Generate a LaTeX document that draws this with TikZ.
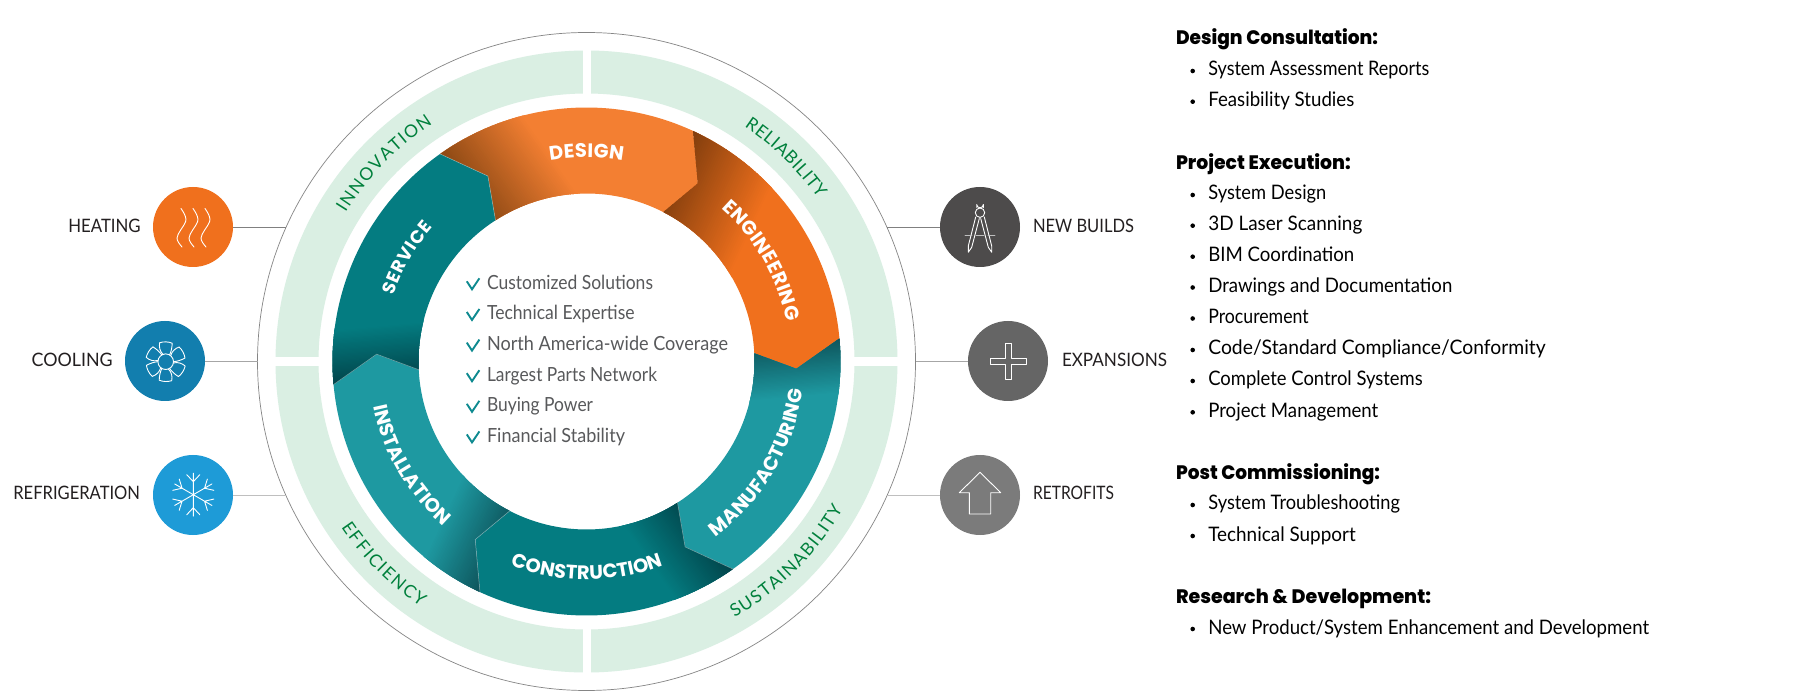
\documentclass[tikz,border=0pt]{standalone}
\usepackage{fontspec}
\usetikzlibrary{decorations.text}
\setmainfont{Lato}
\newfontfamily\lgt{Lato}
\newfontfamily\hvy{Poppins}[UprightFont=* Bold]
\newfontfamily\xhvy{Poppins}[UprightFont=* ExtraBold]
\definecolor{bandg}{HTML}{DAEFE3}
\definecolor{txtg}{HTML}{00803C}
\definecolor{ringg}{HTML}{858585}
\definecolor{orA}{HTML}{F37F32}
\definecolor{orB}{HTML}{F0701D}
\definecolor{orAd}{HTML}{854512}
\definecolor{orBd}{HTML}{7A3A0C}
\definecolor{teA}{HTML}{1E99A1}
\definecolor{teB}{HTML}{047C81}
\definecolor{teAd}{HTML}{0C4E55}
\definecolor{teBd}{HTML}{013F45}
\definecolor{chk}{HTML}{0E8A90}
\definecolor{gtxt}{HTML}{58595B}
\definecolor{ltxt}{HTML}{231F20}
\definecolor{cCool}{HTML}{127EAE}
\definecolor{cRefr}{HTML}{1E9BD7}
\definecolor{cNewb}{HTML}{4D4B4B}
\definecolor{cExpa}{HTML}{656565}
\definecolor{cRetr}{HTML}{7B7B7B}
\newcommand\fitw[2]{\resizebox{#1pt}{\height}{#2}}
\newcommand\segpath[1]{({90-(#1)}:254) arc[start angle={90-(#1)},end angle={90-(#1)-60},radius=254] -- ({90-(#1)-67.2}:210) -- ({90-(#1)-62.4}:168) arc[start angle={90-(#1)-62.4},end angle={90-(#1)-2.4},radius=168] -- ({90-(#1)-7.2}:210) -- cycle}
% #1 start angle, #2 base colour, #3 dark colour, #4 strip width of the shadow
\newcommand\seg[4]{%
\begin{scope}
 \path[clip] \segpath{#1};
 \fill[#2] (-300,-300) rectangle (300,300);
 \begin{scope}[shift={({90-(#1)-1}:205)},rotate={-(#1)}]
  \fill[#3] (-60,-80) rectangle (-10,80);
  \foreach \i in {0,...,50}{
   \pgfmathsetmacro\xa{-10+#4*\i}
   \pgfmathsetmacro\xb{\xa+3}
   \pgfmathsetmacro\pc{2*\i}
   \fill[#2!\pc!#3] (\xa,-80) rectangle (\xb,80);
  }
 \end{scope}
\end{scope}}
\newcommand\edgeln[1]{\draw[white,opacity=.45,line width=.5pt] ({90-(#1)}:254) -- ({90-(#1)-7.2}:210) -- ({90-(#1)-2.4}:168);}
\newcommand\curvecw[6]{\path[decorate,decoration={text along path,text color=#6,text={|#5|#1},text align={fit to path}}] ({90-(#2)+(#3)}:#4) arc[start angle={90-(#2)+(#3)},delta angle={-2*(#3)},radius=#4];}
\newcommand\curveccw[6]{\path[decorate,decoration={text along path,text color=#6,text={|#5|#1},text align={fit to path}}] ({90-(#2)-(#3)}:#4) arc[start angle={90-(#2)-(#3)},delta angle={2*(#3)},radius=#4];}
\newcommand\cbold{\hvy\fontsize{19.5}{24}\selectfont}
\newcommand\cbolds{\hvy\fontsize{18}{24}\selectfont}
\newcommand\cthin{\fontsize{17.5}{23}\selectfont}
\tikzset{
 dot/.style={circle,minimum size=80pt,inner sep=0pt,outer sep=0pt},
 conn/.style={line width=.9pt},
 sidelab/.style={anchor=base west,inner sep=0pt,outer sep=0pt,text=ltxt,font=\lgt\fontsize{18.5}{22}\selectfont},
 inlist/.style={anchor=base west,inner sep=0pt,outer sep=0pt,text=gtxt,font=\lgt\fontsize{19.5}{23}\selectfont},
 head/.style={anchor=base west,inner sep=0pt,outer sep=0pt,text=black,font=\xhvy\fontsize{19.5}{24}\selectfont},
 item/.style={anchor=base west,inner sep=0pt,outer sep=0pt,text=black,font=\lgt\fontsize{20}{24}\selectfont},
 bul/.style={circle,fill=black,minimum size=4.6pt,inner sep=0pt,outer sep=0pt},
 ico/.style={white,line width=.9pt,line join=round,line cap=round},
 chkm/.style={chk,line width=1.9pt},
}
\begin{document}
\begin{tikzpicture}[x=1pt,y=-1pt]
\useasboundingbox (0,0) rectangle (1800,700);
\fill[white] (0,0) rectangle (1800,700);
% outer ring
\node[circle,draw=ringg,line width=.7pt,minimum size=658pt,inner sep=0pt,outer sep=0pt] (ring) at (586.5,361.5) {};
% side circles
\node[dot,fill=orB] (heat) at (193,227) {};
\node[dot,fill=cCool] (cool) at (165,361) {};
\node[dot,fill=cRefr] (refr) at (193,495) {};
\node[dot,fill=cNewb] (newb) at (980,227) {};
\node[dot,fill=cExpa] (expa) at (1008,361) {};
\node[dot,fill=cRetr] (retr) at (980,495) {};
\draw[conn,draw=black!50] (heat.east) -- (heat.east -| ring.156);
\draw[conn,draw=black!35] (cool.east) -- (cool.east -| ring.180);
\draw[conn,draw=black!25] (refr.east) -- (refr.east -| ring.204);
\draw[conn,draw=black!50] (newb.west) -- (newb.west -| ring.24);
\draw[conn,draw=black!35] (expa.west) -- (expa.west -| ring.0);
\draw[conn,draw=black!25] (retr.west) -- (retr.west -| ring.-24);
% rings centred
\begin{scope}[shift={(586.5,361.5)},y=1pt]
 \fill[bandg,even odd rule] (0,0) circle[radius=311] (0,0) circle[radius=268];
 \fill[white] (-4,-320) rectangle (4,320);
 \fill[white] (-320,-4.5) rectangle (320,4.5);
 \seg{-35.2}{orA}{orAd}{1.9}
 \seg{24.8}{orB}{orBd}{2}
 \seg{84.8}{teA}{teAd}{1.2}
 \seg{144.8}{teB}{teBd}{1.4}
 \seg{204.8}{teA}{teAd}{1.4}
 \seg{264.8}{teB}{teBd}{1.2}
 \edgeln{144.8}\edgeln{204.8}\edgeln{264.8}\edgeln{324.8}
 \curvecw{DESIGN}{0}{10.25}{204}{\cbold}{white}
 \curvecw{ENGINEERING}{60}{18.7}{204}{\cbold}{white}
 \curvecw{SERVICE}{300}{11.2}{204}{\cbolds}{white}
 \curveccw{MANUFACTURING}{120.6}{23}{218}{\cbold}{white}
 \curveccw{CONSTRUCTION}{180}{20.5}{218}{\cbold}{white}
 \curveccw{INSTALLATION}{239.5}{18.5}{218}{\cbold}{white}
 \curvecw{INNOVATION}{-45.6}{12.7}{283}{\cthin}{txtg}
 \curvecw{RELIABILITY}{44.4}{10.5}{283}{\cthin}{txtg}
 \curveccw{EFFICIENCY}{225}{11}{296}{\cthin}{txtg}
 \curveccw{SUSTAINABILITY}{135}{15}{296}{\cthin}{txtg}
\end{scope}
% side labels
\node[sidelab] (lheat) at (68.3,232.3) {\fitw{72.4}{HEATING}};
\node[sidelab] (lcool) at (31.7,366.7) {\fitw{81}{COOLING}};
\node[sidelab] (lrefr) at (13.3,500) {\fitw{126.7}{REFRIGERATION}};
\node[sidelab] (lnewb) at (1033,232.3) {\fitw{101}{NEW BUILDS}};
\node[sidelab] (lexpa) at (1062,366.7) {\fitw{105}{EXPANSIONS}};
\node[sidelab] (lretr) at (1033,500) {\fitw{81}{RETROFITS}};
% icons: heating
\foreach \dx in {0,12,24}{
 \draw[ico,shift={(\dx,0)}] (181,208.5) .. controls (185,214) and (187,219) .. (185.5,222) .. controls (183.5,227) and (177.5,233) .. (177,238) .. controls (177,241) and (179.5,244) .. (182,247);
}
% fan
\begin{scope}[shift={(165.7,361.7)},y=1pt]
 \draw[ico] (0,0) circle[radius=7.8];
 \foreach \k in {0,...,5}{
  \draw[ico,rotate={-60*\k}] (-2.7,7.3) .. controls (-6,10.5) and (-6.8,15) .. (-6,19) .. controls (-2,20.3) and (3,20) .. (6.5,18.5) .. controls (6.4,14.5) and (5.5,10) .. (3.9,6.75);
 }
\end{scope}
% snowflake
\begin{scope}[shift={(193.3,494.7)},y=1pt]
 \foreach \k in {0,...,5}{
  \draw[ico,rotate={60*\k}] (0,0) -- (0,21.5) (0,13) -- (-6.5,20) (0,13) -- (6.5,20);
 }
\end{scope}
% compass
\draw[ico] (976.7,207.5) -- (976.7,204.5) arc[start angle=180,end angle=0,radius=3.3] -- (983.3,207.5);
\draw[ico] (980,212.7) circle[radius=4.7];
\draw[ico] (975.7,217) -- (968.3,246) -- (968.3,252.3) -- (971.7,247.3) -- (979.3,218.5);
\draw[ico] (984.3,217) -- (991.7,246) -- (991.7,252.3) -- (988.3,247.3) -- (980.7,218.5);
\draw[ico,white!75!black] (965,235.7) -- (972,235.7) (976,235.7) -- (984,235.7) (988,235.7) -- (995,235.7);
% plus
\draw[ico,line cap=butt] (1005.3,343.3) -- (1011,343.3) -- (1011,358.3) -- (1026.5,358.3) -- (1026.5,364) -- (1011,364) -- (1011,379.3) -- (1005.3,379.3) -- (1005.3,364) -- (990.3,364) -- (990.3,358.3) -- (1005.3,358.3) -- cycle;
% arrow
\draw[ico] (980,472.3) -- (1000.7,492.7) -- (990.7,492.7) -- (990.7,514) -- (969.3,514) -- (969.3,492.7) -- (959.3,492.7) -- cycle;
% centre list
\foreach \yy in {289.3,320,350.6,381.2,411.8,442.4}{
 \draw[chkm] (466.8,\yy-8) -- (472,\yy) -- (479.4,\yy-11);
}
\node[inlist] (c1) at (487,289.3) {\fitw{166}{Customized Solutions}};
\node[inlist] (c2) at (487,320) {\fitw{147.6}{Technical Expertise}};
\node[inlist] (c3) at (487,350.6) {\fitw{241}{North America-wide Coverage}};
\node[inlist] (c4) at (487,381.2) {\fitw{170}{Largest Parts Network}};
\node[inlist] (c5) at (487,411.8) {\fitw{106}{Buying Power}};
\node[inlist] (c6) at (487,442.4) {\fitw{138}{Financial Stability}};
% right column
\node[head] (h1) at (1176,45) {\fitw{202}{Design Consultation:}};
\node[head] (h2) at (1176,169.3) {\fitw{174.7}{Project Execution:}};
\node[head] (h3) at (1176,479) {\fitw{204}{Post Commissioning:}};
\node[head] (h4) at (1176,603.3) {\fitw{255}{Research \& Development:}};
\foreach \yy in {76,106.7,200,230.7,261.7,292.5,323.5,355,386,417.3,510,541,634}{
 \node[bul] at (1192.7,\yy-5) {};
}
\node[item] (i1) at (1208.3,76) {\fitw{221}{System Assessment Reports}};
\node[item] (i2) at (1208.3,106.7) {\fitw{146}{Feasibility Studies}};
\node[item] (i3) at (1208.3,200) {\fitw{118}{System Design}};
\node[item] (i4) at (1208.3,230.7) {\fitw{154}{3D Laser Scanning}};
\node[item] (i5) at (1208.3,261.7) {\fitw{146}{BIM Coordination}};
\node[item] (i6) at (1208.3,292.5) {\fitw{244}{Drawings and Documentation}};
\node[item] (i7) at (1208.3,323.5) {\fitw{100.4}{Procurement}};
\node[item] (i8) at (1208.3,355) {\fitw{337.4}{Code/Standard Compliance/Conformity}};
\node[item] (i9) at (1208.3,386) {\fitw{214.4}{Complete Control Systems}};
\node[item] (i10) at (1208.3,417.3) {\fitw{170}{Project Management}};
\node[item] (i11) at (1208.3,510) {\fitw{191.7}{System Troubleshooting}};
\node[item] (i12) at (1208.3,541) {\fitw{147.4}{Technical Support}};
\node[item] (i13) at (1208.3,634) {\fitw{440.7}{New Product/System Enhancement and Development}};
\end{tikzpicture}
\end{document}
